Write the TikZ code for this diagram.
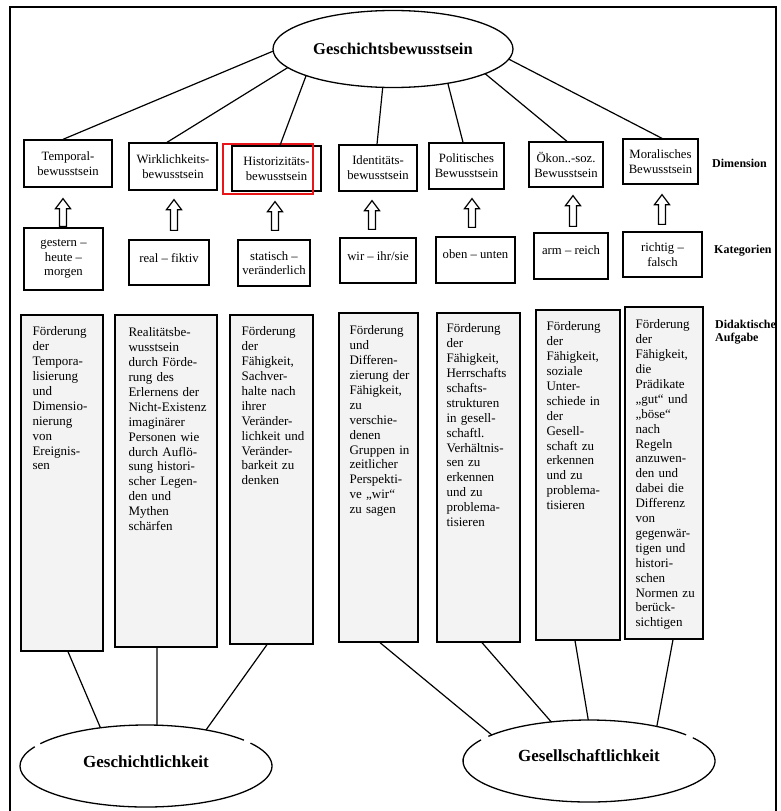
\documentclass[tikz,border=0pt]{standalone}
\usepackage{fontspec}
\setmainfont{Liberation Serif}
\usetikzlibrary{shapes.geometric,calc}
\definecolor{hlred}{RGB}{232,22,24}
\definecolor{boxgray}{RGB}{243,243,243}
\newcommand\hollowup[2]{\draw[hollowarrow] let \p1=#1, \p2=#2 in
  (\x1-3.5pt,\y1) -- (\x1-3.5pt,\y2-10pt) -- (\x1-7.5pt,\y2-10pt) -- (\x1,\y2)
  -- (\x1+7.5pt,\y2-10pt) -- (\x1+3.5pt,\y2-10pt) -- (\x1+3.5pt,\y1) -- cycle;}
\begin{document}
\begin{tikzpicture}[x=1pt,y=-1pt,
  frame/.style={line width=1.6pt},
  dimbox/.style={draw, line width=1.3pt, align=center, inner sep=2pt, font=\fontsize{12.7}{15}\selectfont},
  catbox/.style={draw, line width=1.3pt, align=center, inner sep=2pt, font=\fontsize{12.7}{14.5}\selectfont},
  tallbox/.style={draw, line width=1.3pt, fill=boxgray, inner sep=0pt},
  talltext/.style={anchor=base west, text width=95pt, align=left, inner sep=0pt, font=\fontsize{13}{14.9}\selectfont},
  conn/.style={line width=1.2pt},
  hollowarrow/.style={line width=1.2pt, fill=white, line join=miter},
  ellnode/.style={ellipse, inner sep=0pt, outer sep=0pt, font=\fontsize{17}{20}\selectfont\bfseries},
  ellline/.style={line width=1.3pt},
  sidelabel/.style={font=\fontsize{12}{13}\selectfont\bfseries, inner sep=0pt}
]
\useasboundingbox (0,0) rectangle (780,811);
\draw[frame] (10,811) -- (10,7) -- (776,7) -- (776,811);

% top ellipse
\node[ellnode, draw, line width=1.3pt, minimum width=240pt, minimum height=77pt,
      font=\fontsize{16.5}{20}\selectfont\bfseries] (T) at (393,49) {Geschichtsbewusstsein};

% dimension boxes
\node[dimbox, minimum width=88pt, minimum height=47pt] (d1) at (68,163.5) {Temporal-\\bewusstsein};
\node[dimbox, minimum width=88pt, minimum height=47pt] (d2) at (173,166.5) {Wirklichkeits-\\bewusstsein};
\node[dimbox, minimum width=89pt, minimum height=45pt] (d3) at (276.5,168.5) {Historizitäts-\\bewusstsein};
\node[dimbox, minimum width=78pt, minimum height=46pt] (d4) at (378,168) {Identitäts-\\bewusstsein};
\node[dimbox, minimum width=75pt, minimum height=46pt] (d5) at (466.5,166) {Politisches\\Bewusstsein};
\node[dimbox, minimum width=74pt, minimum height=45pt] (d6) at (566,164.5) {Ökon..-soz.\\Bewusstsein};
\node[dimbox, minimum width=75pt, minimum height=45pt] (d7) at (660.5,161.5) {Moralisches\\Bewusstsein};
\node[draw=hlred, line width=2.4pt, minimum width=90pt, minimum height=50pt, inner sep=0pt] (hl) at (268,169) {};

% connectors top
\draw[conn] (T.181) -- ([xshift=-5pt]d1.north);
\draw[conn] (T.190) -- ([xshift=-6pt]d2.north);
\draw[conn] (T.197) -- ([xshift=3.5pt]d3.north);
\draw[conn] (T.255) -- ([xshift=-1pt]d4.north);
\draw[conn] (T.328) -- ([xshift=-3.5pt]d5.north);
\draw[conn] (T.345) -- ([xshift=1pt]d6.north);
\draw[conn] (T.355) -- ([xshift=1.5pt]d7.north);

% category boxes
\node[catbox, minimum width=79pt, minimum height=62pt] (k1) at (63.5,259) {gestern –\\heute –\\morgen};
\node[catbox, minimum width=80pt, minimum height=45pt, text height=9.5pt, text depth=10pt] (k2) at (169,262.5) {real – fiktiv};
\node[catbox, minimum width=72pt, minimum height=46pt] (k3) at (274,263) {statisch –\\veränderlich};
\node[catbox, minimum width=76pt, minimum height=45pt, text height=9.5pt, text depth=9pt] (k4) at (378,260.5) {wir – ihr/sie};
\node[catbox, minimum width=79pt, minimum height=46pt, text height=9.5pt, text depth=12pt] (k5) at (475.5,260) {oben – unten};
\node[catbox, minimum width=74pt, minimum height=46pt, text height=9.5pt, text depth=12pt] (k6) at (571,256) {arm – reich};
\node[catbox, minimum width=79pt, minimum height=45pt] (k7) at (662.5,254.5) {richtig –\\falsch};

% hollow arrows
\hollowup{([xshift=-0.5pt,yshift=1pt]k1.north)}{([yshift=-11pt]d1.south)}
\hollowup{([xshift=5pt,yshift=9pt]k2.north)}{([yshift=-9pt]d2.south)}
\hollowup{([xshift=1pt,yshift=9pt]k3.north)}{([yshift=-10pt]d3.south)}
\hollowup{([xshift=-6pt,yshift=8pt]k4.north)}{([yshift=-9pt]d4.south)}
\hollowup{([xshift=-3.5pt,yshift=9pt]k5.north)}{([yshift=-9pt]d5.south)}
\hollowup{([xshift=2pt,yshift=6pt]k6.north)}{([yshift=-8pt]d6.south)}
\hollowup{([xshift=-0.5pt,yshift=7pt]k7.north)}{([yshift=-10pt]d7.south)}

% tall boxes
\node[tallbox, minimum width=82pt, minimum height=336pt] (t1) at (62,483) {};
\node[tallbox, minimum width=102pt, minimum height=332pt] (t2) at (166,481) {};
\node[tallbox, minimum width=83pt, minimum height=329pt] (t3) at (271.5,479.5) {};
\node[tallbox, minimum width=79pt, minimum height=329pt] (t4) at (378.5,477.5) {};
\node[tallbox, minimum width=83pt, minimum height=329pt] (t5) at (478.5,477.5) {};
\node[tallbox, minimum width=84pt, minimum height=330pt] (t6) at (578,475) {};
\node[tallbox, minimum width=78pt, minimum height=332pt] (t7) at (664,473) {};

\node[talltext] (x1) at ([xshift=12pt,yshift=-21.5pt]t1.north west) {Förderung\\der\\Tempora-\\lisierung\\und\\Dimensio-\\nierung\\von\\Ereignis-\\sen};
\node[talltext] (x2) at ([xshift=14pt,yshift=-22.5pt]t2.north west) {Realitätsbe-\\wusstsein\\durch Förde-\\rung des\\Erlernens der\\Nicht-Existenz\\imaginärer\\Personen wie\\durch Auflö-\\sung histori-\\scher Legen-\\den und\\Mythen\\schärfen};
\node[talltext] (x3) at ([xshift=12pt,yshift=-21.5pt]t3.north west) {Förderung\\der\\Fähigkeit,\\Sachver-\\halte nach\\ihrer\\Veränder-\\lichkeit und\\Veränder-\\barkeit zu\\denken};
\node[talltext] (x4) at ([xshift=11pt,yshift=-22.5pt]t4.north west) {Förderung\\und\\Differen-\\zierung der\\Fähigkeit,\\zu\\verschie-\\denen\\Gruppen in\\zeitlicher\\Perspekti-\\ve „wir“\\zu sagen};
\node[talltext] (x5) at ([xshift=10pt,yshift=-20.5pt]t5.north west) {Förderung\\der\\Fähigkeit,\\Herrschafts\\schafts-\\strukturen\\in gesell-\\schaftl.\\Verhältnis-\\sen zu\\erkennen\\und zu\\problema-\\tisieren};
\node[talltext] (x6) at ([xshift=11pt,yshift=-21.5pt]t6.north west) {Förderung\\der\\Fähigkeit,\\soziale\\Unter-\\schiede in\\der\\Gesell-\\schaft zu\\erkennen\\und zu\\problema-\\tisieren};
\node[talltext] (x7) at ([xshift=11pt,yshift=-22.5pt]t7.north west) {Förderung\\der\\Fähigkeit,\\die\\Prädikate\\„gut“ und\\„böse“\\nach\\Regeln\\anzuwen-\\den und\\dabei die\\Differenz\\von\\gegenwär-\\tigen und\\histori-\\schen\\Normen zu\\berück-\\sichtigen};

% side labels
\node[sidelabel, anchor=base west] (ldim) at (712,167.5) {Dimension};
\node[sidelabel, anchor=base west] (lkat) at (714,253.5) {Kategorien};
\node[sidelabel, anchor=base west, text width=70pt, align=left] (ldid) at (715,328) {Didaktische\\Aufgabe};

% bottom ellipses
\node[ellnode, minimum width=252pt, minimum height=82pt, text height=11.6pt, text depth=8pt] (G) at (146,766) {Geschichtlichkeit};
\node[ellnode, minimum width=252pt, minimum height=82pt, text height=11.6pt, text depth=10pt] (S) at (589,761) {Gesellschaftlichkeit};
\draw[ellline] ([shift={(39:126pt and 41pt)}]G.center) arc[start angle=39, end angle=147, x radius=126pt, y radius=41pt];
\draw[ellline] ([shift={(152:126pt and 41pt)}]G.center) arc[start angle=152, end angle=394, x radius=126pt, y radius=41pt];
\draw[ellline] ([shift={(39.6:126pt and 41pt)}]S.center) arc[start angle=39.6, end angle=143, x radius=126pt, y radius=41pt];
\draw[ellline] ([shift={(149:126pt and 41pt)}]S.center) arc[start angle=149, end angle=394.5, x radius=126pt, y radius=41pt];

% connectors bottom
\draw[conn] ([xshift=6pt]t1.south) -- (G.140);
\draw[conn] ([xshift=-9pt]t2.south) -- (G.75);
\draw[conn] ([xshift=-4.5pt]t3.south) -- (G.31);
\draw[conn] ([xshift=1.5pt]t4.south) -- (S.165);
\draw[conn] ([xshift=3.5pt]t5.south) -- (S.134);
\draw[conn] ([xshift=-3pt]t6.south) -- (S.91);
\draw[conn] ([xshift=9pt]t7.south) -- (S.27);
\end{tikzpicture}
\end{document}
